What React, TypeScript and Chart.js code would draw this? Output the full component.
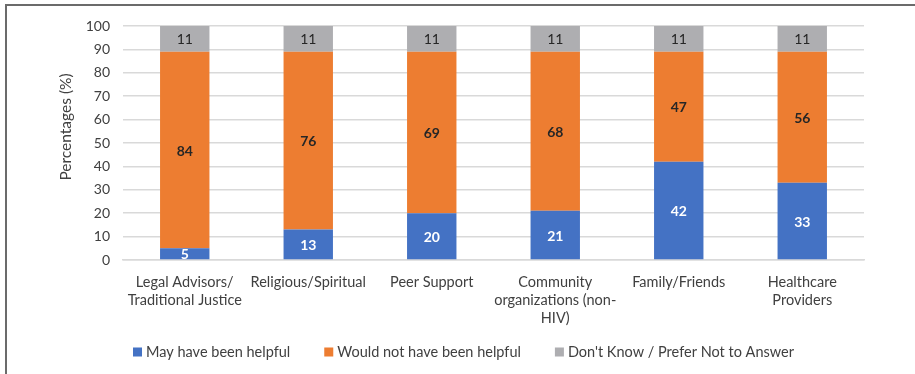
import React, { useEffect, useRef } from "react";
import { Chart, registerables } from "chart.js";

Chart.register(...registerables);

const categories: (string | string[])[] = [
  ["Legal Advisors/", "Traditional Justice"],
  "Religious/Spiritual",
  "Peer Support",
  ["Community", "organizations (non-", "HIV)"],
  "Family/Friends",
  ["Healthcare", "Providers"],
];
const mayHaveBeenHelpful = [5, 13, 20, 21, 42, 33];
const wouldNotHaveBeenHelpful = [84, 76, 69, 68, 47, 56];
const dontKnow = [11, 11, 11, 11, 11, 11];
const seriesNames = [
  "May have been helpful",
  "Would not have been helpful",
  "Don't Know / Prefer Not to Answer",
];
const seriesColors = ["#4472C4", "#ED7D31", "#AEAEB1"];
const labelColors = ["#FFFFFF", "#262626", "#262626"];
const labelWeights = ["bold", "bold", "normal"];
const yTitle = "Percentages (%)";

const FONT = "Lato, 'Open Sans', sans-serif";
const TEXT = "#404040";

const dataLabelPlugin = {
  id: "dataLabels",
  afterDatasetsDraw(chart: any) {
    const ctx = chart.ctx;
    chart.data.datasets.forEach((ds: any, di: number) => {
      const meta = chart.getDatasetMeta(di);
      meta.data.forEach((el: any, i: number) => {
        const v = ds.data[i];
        const cy = (el.y + el.base) / 2;
        ctx.save();
        ctx.font = `${labelWeights[di]} 14px ${FONT}`;
        ctx.fillStyle = labelColors[di];
        ctx.textAlign = "center";
        ctx.textBaseline = "middle";
        ctx.fillText(String(v), el.x, cy + 1);
        ctx.restore();
      });
    });
  },
};

const extrasPlugin = {
  id: "extras",
  afterDraw(chart: any) {
    const ctx = chart.ctx;
    // y axis title
    ctx.save();
    ctx.font = `15.5px ${FONT}`;
    ctx.fillStyle = TEXT;
    ctx.translate(66, 127);
    ctx.rotate(-Math.PI / 2);
    ctx.textAlign = "center";
    ctx.textBaseline = "middle";
    ctx.fillText(yTitle, 0, 0);
    ctx.restore();
    // legend
    ctx.save();
    ctx.font = `14.5px ${FONT}`;
    ctx.textBaseline = "middle";
    ctx.textAlign = "left";
    const box = 9;
    const gapBoxText = 4;
    const gapItems = 34;
    const cy = 352;
    let x = 133;
    chart.data.datasets.forEach((ds: any) => {
      ctx.fillStyle = ds.backgroundColor;
      ctx.fillRect(x, cy - box / 2, box, box);
      x += box + gapBoxText;
      ctx.fillStyle = TEXT;
      ctx.fillText(ds.label, x, cy + 0.5);
      x += ctx.measureText(ds.label).width + gapItems;
    });
    ctx.restore();
  },
};

export default function App() {
  const ref = useRef<HTMLCanvasElement>(null);
  useEffect(() => {
    const seriesData = [mayHaveBeenHelpful, wouldNotHaveBeenHelpful, dontKnow];
    const chart = new Chart(ref.current!, {
      type: "bar",
      data: {
        labels: categories,
        datasets: seriesData.map((d, i) => ({
          label: seriesNames[i],
          data: d,
          backgroundColor: seriesColors[i],
          borderWidth: 0,
          categoryPercentage: 1,
          barPercentage: 0.4,
        })),
      },
      options: {
        animation: false,
        responsive: false,
        maintainAspectRatio: false,
        layout: { padding: { left: 0, right: 51, top: 26, bottom: 30 } },
        plugins: { legend: { display: false }, tooltip: { enabled: false } },
        scales: {
          x: {
            stacked: true,
            grid: { display: false, drawTicks: false },
            border: { color: "#D9D9D9", width: 1.5 },
            ticks: {
              color: TEXT,
              font: { family: FONT, size: 14.5, lineHeight: 1.24 },
              padding: 13,
              maxRotation: 0,
              autoSkip: false,
            },
            afterFit(scale: any) {
              scale.height = 84;
            },
          },
          y: {
            stacked: true,
            min: 0,
            max: 100,
            grid: { color: "#D9D9D9", lineWidth: 1.5, drawTicks: false },
            border: { display: false },
            ticks: {
              stepSize: 10,
              color: TEXT,
              font: { family: FONT, size: 14 },
              padding: 13,
            },
            afterFit(scale: any) {
              scale.width = 123;
            },
          },
        },
      },
      plugins: [dataLabelPlugin, extrasPlugin],
    });
    return () => chart.destroy();
  }, []);
  return (
    <div style={{ position: "fixed", left: 0, top: 0, width: 915, height: 374, background: "#fff" }}>
      <div
        style={{
          position: "absolute",
          left: 5,
          top: 4,
          right: 0,
          bottom: 0,
          borderTop: "2px solid #6B6B6B",
          borderLeft: "2px solid #6B6B6B",
        }}
      />
      <canvas ref={ref} width={915} height={374} style={{ position: "absolute", left: 0, top: 0 }} />
    </div>
  );
}
